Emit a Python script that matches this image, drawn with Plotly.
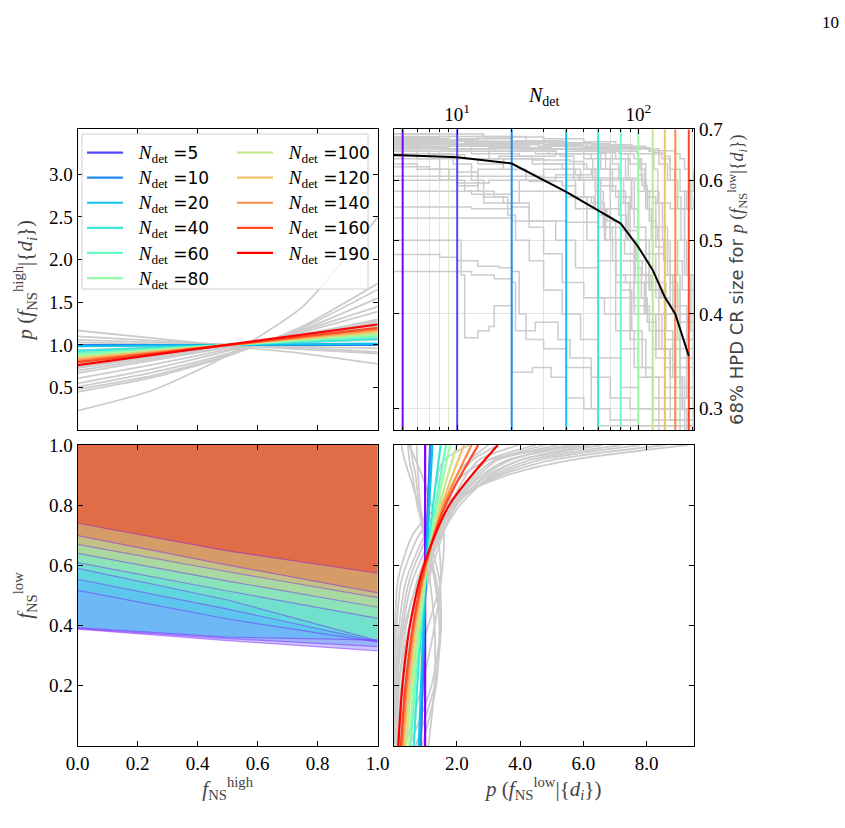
import numpy as np
import plotly.graph_objects as go

# ---------------- data ----------------
N_DET = [5, 10, 20, 40, 60, 80, 100, 120, 140, 160, 190]
RAINBOW = ['#8000ff', '#5148fc', '#238af5', '#0cc1e8', '#3ae8d7', '#68fcc1',
           '#97fca7', '#c5e88a', '#f3c16a', '#ff8a48', '#ff4824', '#ff0000']

# top-left: p(f_high) for each N (straight lines, values at f_high = 0 and 1)
FHIGH_EDGES = [0.0, 1.0]
PHIGH_LEFT = [1.00, 0.995, 0.985, 0.93, 0.90, 0.88, 0.86, 0.84, 0.82, 0.80, 0.765]
PHIGH_RIGHT = [1.00, 1.005, 1.015, 1.07, 1.10, 1.12, 1.14, 1.16, 1.18, 1.20, 1.24]
GRAY_FHIGH_X = [0.0, 0.25, 0.5, 0.75, 1.0]
GRAY_PHIGH = [
    [0.23, 0.47, 0.88, 1.45, 2.50],
    [0.45, 0.62, 0.87, 1.22, 1.72],
    [0.48, 0.64, 0.88, 1.20, 1.65],
    [0.51, 0.68, 0.90, 1.18, 1.55],
    [0.55, 0.72, 0.93, 1.17, 1.45],
    [0.61, 0.77, 0.95, 1.15, 1.39],
    [0.67, 0.82, 0.97, 1.12, 1.30],
    [0.70, 0.84, 0.98, 1.13, 1.28],
    [0.73, 0.86, 0.99, 1.12, 1.25],
    [0.74, 0.87, 0.99, 1.12, 1.26],
    [0.76, 0.88, 1.00, 1.11, 1.23],
    [0.79, 0.89, 1.00, 1.10, 1.20],
    [0.80, 0.90, 1.00, 1.10, 1.21],
    [0.82, 0.91, 1.00, 1.09, 1.17],
    [0.85, 0.93, 1.00, 1.07, 1.14],
    [0.88, 0.94, 1.00, 1.06, 1.11],
    [0.91, 0.96, 1.00, 1.04, 1.08],
    [0.94, 0.97, 1.00, 1.03, 1.06],
    [1.17, 1.08, 0.99, 0.90, 0.78],
    [1.10, 1.05, 1.00, 0.95, 0.90],
    [1.06, 1.03, 1.00, 0.97, 0.92],
    [1.03, 1.01, 1.00, 0.98, 0.96],
]

# top-right: 68% HPD size vs N_det
HPD_N = [1, 5, 10, 20, 40, 60, 80, 100, 120, 140, 160, 190]
HPD_SIZE = [0.652, 0.647, 0.643, 0.631, 0.579, 0.547, 0.526, 0.490, 0.457, 0.421, 0.400, 0.352]
GRAY_HPD_N = [
    [4.4, 7, 12, 20, 35, 60, 75, 85, 95, 110, 125, 140, 160, 203],
    [4.4, 9, 15, 30, 50, 90, 100, 110, 130, 150, 170, 190, 203],
    [4.4, 10, 25, 45, 62, 70, 80, 95, 120, 150, 180, 203],
    [4.4, 8, 20, 40, 60, 120, 135, 150, 165, 180, 195, 203],
    [4.4, 6, 8, 10, 13, 18, 30, 52, 58, 66, 75, 90, 110, 140, 170, 203],
    [4.4, 7, 9.5, 12, 14, 18, 22, 30, 45, 55, 80, 100, 120, 150, 180, 203],
    [4.4, 15, 30, 60, 100, 110, 125, 145, 175, 203],
    [4.4, 8, 12, 20, 40, 55, 65, 75, 85, 110, 140, 170, 203],
    [4.4, 12, 20, 25, 30, 38, 50, 65, 80, 100, 130, 160, 203],
    [4.4, 9, 10.5, 11, 13, 15, 16, 18.5, 20, 26, 33, 40, 50, 60, 203],
    [4.4, 8, 10, 13, 17, 20, 22, 24, 30, 40, 55, 70, 100, 203],
    [4.4, 8, 12, 16, 20, 21, 27, 36, 42, 55, 70, 90, 120, 203],
    [4.4, 7, 10, 13, 16, 19, 21, 25, 30, 38, 48, 60, 80, 100, 130, 203],
    [4.4, 10, 20, 30, 40, 50, 56, 62, 70, 80, 95, 115, 140, 170, 203],
    [4.4, 10, 20, 45, 80, 95, 102, 108, 115, 125, 140, 160, 185, 203],
    [4.4, 12, 22, 32, 40, 45, 52, 60, 75, 90, 110, 140, 170, 203],
    [4.4, 8, 15, 26, 38, 48, 62, 75, 90, 100, 115, 130, 160, 203],
    [4.4, 10, 20, 40, 70, 110, 130, 145, 160, 170, 185, 203],
    [4.4, 9, 13, 18, 24, 35, 47, 58, 70, 85, 95, 110, 130, 160, 203],
    [4.4, 15, 30, 60, 78, 88, 92, 100, 110, 120, 135, 150, 180, 203],
    [4.4, 6, 9, 11, 14, 20, 25, 35, 45, 60, 75, 95, 120, 150, 203],
    [4.4, 15, 35, 55, 70, 80, 88, 98, 115, 135, 150, 165, 180, 195, 203],
    [4.4, 10, 20, 40, 60, 80, 100, 120, 140, 170, 203],
    [4.4, 6, 9, 14, 22, 33, 48, 66, 72, 78, 83, 90, 96, 104, 112, 125, 140, 160, 185, 203],
    [4.4, 8, 13, 24, 38, 55, 85, 115, 122, 128, 136, 145, 155, 170, 185, 203],
    [4.4, 7, 11, 17, 26, 42, 50, 58, 64, 72, 80, 92, 105, 120, 140, 203],
    [4.4, 10, 18, 28, 44, 68, 98, 140, 150, 160, 172, 185, 203],
    [4.4, 9, 16, 27, 37, 44, 50, 57, 67, 75, 84, 96, 108, 125, 150, 175, 203],
    [4.4, 12, 22, 35, 60, 90, 100, 105, 112, 120, 128, 138, 150, 165, 185, 203],
    [4.4, 14, 30, 50, 75, 92, 100, 104, 110, 118, 130, 142, 155, 175, 203],
    [4.4, 7, 10, 15, 25, 38, 45, 52, 60, 70, 80, 100, 115, 140, 165, 203],
    [4.4, 20, 40, 62, 66, 72, 78, 86, 95, 105, 118, 132, 150, 170, 203],
    [4.4, 11, 21, 32, 52, 75, 115, 160, 170, 180, 190, 203],
]
GRAY_HPD_V = [
    [0.665, 0.660, 0.668, 0.655, 0.660, 0.652, 0.640, 0.600, 0.520, 0.480, 0.420, 0.350, 0.310, 0.290],
    [0.680, 0.675, 0.670, 0.668, 0.662, 0.655, 0.630, 0.580, 0.500, 0.430, 0.340, 0.300, 0.290],
    [0.672, 0.665, 0.660, 0.655, 0.620, 0.550, 0.470, 0.400, 0.360, 0.310, 0.280, 0.270],
    [0.690, 0.685, 0.672, 0.664, 0.660, 0.652, 0.640, 0.600, 0.550, 0.450, 0.380, 0.360],
    [0.660, 0.640, 0.600, 0.590, 0.620, 0.640, 0.630, 0.620, 0.550, 0.500, 0.420, 0.370, 0.330, 0.300, 0.280, 0.275],
    [0.655, 0.650, 0.630, 0.600, 0.570, 0.560, 0.600, 0.620, 0.610, 0.620, 0.600, 0.580, 0.560, 0.550, 0.580, 0.600],
    [0.607, 0.607, 0.605, 0.604, 0.600, 0.570, 0.520, 0.470, 0.430, 0.400],
    [0.580, 0.580, 0.575, 0.580, 0.570, 0.560, 0.500, 0.450, 0.440, 0.400, 0.360, 0.320, 0.300],
    [0.553, 0.550, 0.553, 0.520, 0.480, 0.440, 0.420, 0.400, 0.360, 0.330, 0.300, 0.280, 0.275],
    [0.500, 0.500, 0.450, 0.372, 0.380, 0.385, 0.410, 0.410, 0.335, 0.340, 0.330, 0.310, 0.300, 0.285, 0.280],
    [0.479, 0.475, 0.470, 0.462, 0.460, 0.455, 0.400, 0.370, 0.360, 0.340, 0.300, 0.290, 0.285, 0.280],
    [0.455, 0.455, 0.450, 0.445, 0.440, 0.380, 0.390, 0.370, 0.350, 0.330, 0.310, 0.300, 0.290, 0.285],
    [0.625, 0.620, 0.615, 0.580, 0.570, 0.540, 0.500, 0.470, 0.430, 0.400, 0.370, 0.350, 0.320, 0.300, 0.280, 0.275],
    [0.670, 0.675, 0.672, 0.665, 0.660, 0.640, 0.600, 0.550, 0.500, 0.450, 0.410, 0.380, 0.340, 0.300, 0.290],
    [0.660, 0.660, 0.660, 0.655, 0.650, 0.640, 0.620, 0.580, 0.530, 0.490, 0.450, 0.410, 0.370, 0.350],
    [0.675, 0.668, 0.660, 0.650, 0.600, 0.550, 0.500, 0.470, 0.440, 0.420, 0.400, 0.370, 0.340, 0.320],
    [0.650, 0.655, 0.640, 0.630, 0.620, 0.600, 0.590, 0.570, 0.550, 0.500, 0.440, 0.400, 0.360, 0.330],
    [0.685, 0.680, 0.675, 0.670, 0.665, 0.660, 0.630, 0.600, 0.620, 0.580, 0.550, 0.570],
    [0.640, 0.640, 0.630, 0.620, 0.600, 0.610, 0.600, 0.600, 0.580, 0.500, 0.450, 0.400, 0.360, 0.320, 0.300],
    [0.668, 0.662, 0.660, 0.658, 0.650, 0.600, 0.550, 0.500, 0.440, 0.400, 0.360, 0.330, 0.300, 0.280],
    [0.630, 0.620, 0.600, 0.580, 0.560, 0.560, 0.530, 0.500, 0.460, 0.420, 0.380, 0.340, 0.310, 0.290, 0.280],
    [0.660, 0.655, 0.650, 0.640, 0.600, 0.560, 0.500, 0.470, 0.430, 0.420, 0.450, 0.500, 0.550, 0.600, 0.620],
    [0.535, 0.535, 0.530, 0.528, 0.520, 0.515, 0.500, 0.480, 0.450, 0.400, 0.370],
    [0.670, 0.672, 0.665, 0.670, 0.662, 0.667, 0.660, 0.655, 0.630, 0.600, 0.560, 0.500, 0.460, 0.420, 0.390, 0.350, 0.320, 0.300, 0.280, 0.275],
    [0.683, 0.678, 0.685, 0.676, 0.672, 0.668, 0.662, 0.655, 0.620, 0.560, 0.500, 0.450, 0.400, 0.350, 0.310, 0.290],
    [0.645, 0.648, 0.640, 0.645, 0.638, 0.635, 0.620, 0.580, 0.520, 0.470, 0.430, 0.380, 0.340, 0.300, 0.280, 0.275],
    [0.675, 0.670, 0.668, 0.665, 0.660, 0.655, 0.650, 0.645, 0.620, 0.570, 0.500, 0.450, 0.410],
    [0.662, 0.660, 0.655, 0.650, 0.645, 0.600, 0.570, 0.550, 0.530, 0.500, 0.480, 0.440, 0.400, 0.360, 0.330, 0.300, 0.290],
    [0.655, 0.650, 0.645, 0.650, 0.640, 0.630, 0.610, 0.590, 0.550, 0.520, 0.500, 0.470, 0.440, 0.400, 0.350, 0.330],
    [0.690, 0.684, 0.680, 0.674, 0.668, 0.660, 0.640, 0.600, 0.550, 0.500, 0.440, 0.380, 0.330, 0.300, 0.280],
    [0.600, 0.600, 0.595, 0.600, 0.598, 0.590, 0.570, 0.550, 0.540, 0.500, 0.470, 0.450, 0.430, 0.400, 0.370, 0.350],
    [0.665, 0.660, 0.655, 0.650, 0.620, 0.580, 0.540, 0.500, 0.470, 0.450, 0.430, 0.420, 0.410, 0.390, 0.370],
    [0.678, 0.672, 0.676, 0.670, 0.665, 0.660, 0.656, 0.650, 0.640, 0.620, 0.600, 0.610],
]

# bottom-left: lower bound of the f_low credible region vs f_high
FLOW_BOUND_X = [0.0, 0.5, 1.0]
FLOW_LOWER = [
    [0.388, 0.350, 0.316],
    [0.390, 0.357, 0.330],
    [0.393, 0.362, 0.352],
    [0.517, 0.422, 0.345],
    [0.554, 0.455, 0.347],
    [0.590, 0.485, 0.350],
    [0.609, 0.515, 0.424],
    [0.640, 0.548, 0.461],
    [0.670, 0.579, 0.493],
    [0.699, 0.601, 0.509],
    [0.740, 0.648, 0.574],
]

# bottom-right: p(f_low) curves
FLOW_GRID_C = [0.0, 0.2, 0.4, 0.6, 0.8, 1.0]
PLOW_PRIOR = [1.0, 1.0, 1.0, 1.0, 1.0, 1.0]
PLOW = [
    [0.86, 0.92, 0.97, 1.03, 1.09, 1.16],
    [0.85, 0.91, 0.97, 1.03, 1.10, 1.17],
    [0.80, 0.87, 0.95, 1.04, 1.13, 1.23],
    [0.64, 0.75, 0.89, 1.06, 1.25, 1.49],
    [0.54, 0.68, 0.85, 1.06, 1.33, 1.66],
    [0.49, 0.63, 0.82, 1.06, 1.38, 1.79],
    [0.40, 0.56, 0.77, 1.06, 1.46, 2.00],
    [0.33, 0.49, 0.71, 1.04, 1.53, 2.23],
    [0.27, 0.43, 0.66, 1.03, 1.59, 2.47],
    [0.23, 0.38, 0.62, 1.00, 1.64, 2.68],
    [0.15, 0.28, 0.52, 0.96, 1.76, 3.30],
]
FLOW_GRID_G = [0.0, 0.2, 0.4, 0.55, 0.7, 0.8, 0.9, 0.95, 1.0]
GRAY_PLOW = [
    [0.01, 0.02, 0.05, 0.14, 0.60, 1.45, 3.6, 5.6, 9.3],
    [0.02, 0.04, 0.10, 0.25, 0.80, 1.60, 3.4, 5.0, 8.6],
    [0.03, 0.07, 0.18, 0.40, 1.00, 1.80, 3.3, 4.6, 7.8],
    [0.05, 0.10, 0.25, 0.50, 1.10, 1.90, 3.2, 4.3, 7.2],
    [0.04, 0.12, 0.30, 0.60, 1.25, 1.95, 3.0, 4.0, 6.6],
    [0.08, 0.18, 0.40, 0.75, 1.30, 1.90, 2.8, 3.6, 5.9],
    [0.10, 0.25, 0.50, 0.85, 1.40, 1.90, 2.7, 3.3, 5.2],
    [0.15, 0.30, 0.60, 0.95, 1.45, 1.85, 2.5, 3.0, 4.5],
    [0.20, 0.40, 0.70, 1.00, 1.45, 1.80, 2.3, 2.7, 3.96],
    [0.30, 0.50, 0.80, 1.05, 1.40, 1.70, 2.1, 2.5, 3.3],
    [0.50, 1.20, 1.50, 1.45, 1.10, 0.80, 0.50, 0.35, 0.25],
    [0.70, 1.30, 1.50, 1.35, 1.00, 0.75, 0.60, 0.50, 0.46],
    [0.90, 1.35, 1.45, 1.30, 1.00, 0.85, 0.78, 0.75, 0.73],
    [1.10, 1.30, 1.30, 1.15, 0.95, 0.80, 0.70, 0.60, 0.55],
    [0.05, 0.30, 0.70, 1.10, 1.55, 1.90, 2.6, 3.2, 4.8],
    [0.02, 0.15, 0.50, 0.95, 1.50, 2.00, 2.9, 3.7, 5.5],
    [0.01, 0.08, 0.35, 0.80, 1.50, 2.10, 3.1, 4.0, 6.2],
    [0.12, 0.35, 0.65, 0.90, 1.20, 1.50, 2.2, 3.0, 5.8],
    [0.25, 0.55, 0.85, 1.10, 1.35, 1.60, 2.0, 2.4, 3.0],
    [0.35, 0.90, 1.30, 1.50, 1.40, 1.20, 0.9, 0.7, 0.5],
    [0.08, 0.50, 1.10, 1.50, 1.60, 1.50, 1.4, 1.6, 2.4],
]

# axis limits
PHIGH_YLIM = [0.004, 3.527]
HPD_XLIM = [4.45, 203]
HPD_YLIM = [0.2813, 0.7]
PLOW_XLIM = [0.0, 9.5]

# ---------------- styling helpers ----------------
SERIF = "Liberation Serif"
SANS = "DejaVu Sans"
GRAY = "#cccccc"
W, H = 845, 828


def px_x(p):
    return p / W


def px_y(p):
    return 1 - p / H


def rgba(hexc, a):
    hexc = hexc.lstrip('#')
    r, g, b = int(hexc[0:2], 16), int(hexc[2:4], 16), int(hexc[4:6], 16)
    return f"rgba({r},{g},{b},{a})"


def legend_label(n):
    return (f'&nbsp;&nbsp;<span style="font-family:{SERIF};font-size:19px">'
            f'<i>N</i><sub>det</sub></span> ={n}')


P_LOW = '<i>p</i> (<i>f</i><sub>NS</sub><sup>low</sup>|{<i>d</i><sub><i>i</i></sub>})'
P_HIGH = '<i>p</i> (<i>f</i><sub>NS</sub><sup>high</sup>|{<i>d</i><sub><i>i</i></sub>})'

fig = go.Figure()

# ---- top-left panel ----
for ys in GRAY_PHIGH:
    fig.add_trace(go.Scatter(x=GRAY_FHIGH_X, y=ys, mode='lines',
                             line=dict(color=GRAY, width=1.8, shape='spline', smoothing=0.6),
                             xaxis='x', yaxis='y', showlegend=False, hoverinfo='skip'))
for i, n in enumerate(N_DET):
    fig.add_trace(go.Scatter(x=FHIGH_EDGES, y=[PHIGH_LEFT[i], PHIGH_RIGHT[i]], mode='lines',
                             line=dict(color=RAINBOW[i + 1], width=2.2),
                             name=legend_label(n), legend='legend' if i < 6 else 'legend2',
                             xaxis='x', yaxis='y', hoverinfo='skip'))

# ---- top-right panel ----
for ns, vs in zip(GRAY_HPD_N, GRAY_HPD_V):
    fig.add_trace(go.Scatter(x=ns, y=vs, mode='lines',
                             line=dict(color=GRAY, width=1.5, shape='hv'),
                             xaxis='x2', yaxis='y2', showlegend=False, hoverinfo='skip'))
for i, n in enumerate(N_DET):
    fig.add_trace(go.Scatter(x=[n, n], y=HPD_YLIM, mode='lines',
                             line=dict(color=RAINBOW[i], width=2),
                             xaxis='x2', yaxis='y2', showlegend=False, hoverinfo='skip'))
fig.add_trace(go.Scatter(x=HPD_N, y=HPD_SIZE, mode='lines',
                         line=dict(color='black', width=2),
                         xaxis='x2', yaxis='y2', showlegend=False, hoverinfo='skip'))

# ---- bottom-left panel ----
for i, lo in enumerate(FLOW_LOWER):
    fig.add_trace(go.Scatter(x=FLOW_BOUND_X + [1.0, 0.0], y=lo + [1.0, 1.0],
                             mode='lines', fill='toself',
                             fillcolor=rgba(RAINBOW[i + 1], 0.3), line=dict(width=0),
                             xaxis='x3', yaxis='y3', showlegend=False, hoverinfo='skip'))
for lo in FLOW_LOWER:
    fig.add_trace(go.Scatter(x=FLOW_BOUND_X, y=lo, mode='lines',
                             line=dict(color='rgba(128,0,255,0.4)', width=1.2),
                             xaxis='x3', yaxis='y3', showlegend=False, hoverinfo='skip'))

# ---- bottom-right panel ----
for ps in GRAY_PLOW:
    fig.add_trace(go.Scatter(x=ps, y=FLOW_GRID_G, mode='lines',
                             line=dict(color=GRAY, width=1.8, shape='spline', smoothing=0.7),
                             xaxis='x4', yaxis='y4', showlegend=False, hoverinfo='skip'))
fig.add_trace(go.Scatter(x=PLOW_PRIOR, y=FLOW_GRID_C, mode='lines',
                         line=dict(color=RAINBOW[0], width=2.2),
                         xaxis='x4', yaxis='y4', showlegend=False, hoverinfo='skip'))
for i, ps in enumerate(PLOW):
    fig.add_trace(go.Scatter(x=ps, y=FLOW_GRID_C, mode='lines',
                             line=dict(color=RAINBOW[i + 1], width=2.2, shape='spline', smoothing=0.8),
                             xaxis='x4', yaxis='y4', showlegend=False, hoverinfo='skip'))

# ---------------- axes ----------------
XL = [px_x(77.7), px_x(377.7)]
XR = [px_x(393.5), px_x(694.0)]
YT = [px_y(430.0), px_y(129.3)]
YB = [px_y(746.0), px_y(445.0)]


def base():
    return dict(showline=True, linecolor='black', linewidth=1.3, mirror='ticks',
                ticks='inside', ticklen=5, tickwidth=1.1, tickcolor='black',
                showgrid=False, zeroline=False, automargin=False,
                tickfont=dict(family=SERIF, size=19, color='black'))


fig.update_layout(
    xaxis=dict(base(), domain=XL, anchor='y', range=[0, 1],
               tickvals=[0.2, 0.4, 0.6, 0.8], showticklabels=False),
    yaxis=dict(base(), domain=YT, anchor='x', range=PHIGH_YLIM,
               tickvals=[0.5, 1.0, 1.5, 2.0, 2.5, 3.0],
               ticktext=['0.5', '1.0', '1.5', '2.0', '2.5', '3.0'],
               title=dict(text=P_HIGH, font=dict(family=SERIF, size=21), standoff=10)),
    xaxis2=dict(base(), domain=XR, anchor='y2', type='log', side='top',
                range=[np.log10(HPD_XLIM[0]), np.log10(HPD_XLIM[1])],
                tickvals=[10, 100], ticktext=['10<sup>1</sup>', '10<sup>2</sup>'],
                showgrid=True, gridcolor='#e3e3e3', gridwidth=1,
                minor=dict(ticks='inside', ticklen=3, tickcolor='black',
                           tickvals=[5, 6, 7, 8, 9, 20, 30, 40, 50, 60, 70, 80, 90, 200],
                           showgrid=True, gridcolor='#e3e3e3', gridwidth=1)),
    yaxis2=dict(base(), domain=YT, anchor='x2', type='log', side='right',
                range=[np.log10(HPD_YLIM[0]), np.log10(HPD_YLIM[1])],
                tickvals=[0.3, 0.4, 0.5, 0.6, 0.7],
                ticktext=['0.3', '0.4', '0.5', '0.6', '0.7'],
                showgrid=True, gridcolor='#e3e3e3', gridwidth=1,
                title=dict(text=(f'68% HPD CR size for <span style="font-family:{SERIF}">'
                                 + P_LOW + '</span>'),
                           font=dict(family=SANS, size=18), standoff=8)),
    xaxis3=dict(base(), domain=XL, anchor='y3', range=[0, 1],
                tickvals=[0.0, 0.2, 0.4, 0.6, 0.8, 1.0],
                ticktext=['0.0', '0.2', '0.4', '0.6', '0.8', '1.0'],
                title=dict(text='<i>f</i><sub>NS</sub><sup>high</sup>',
                           font=dict(family=SERIF, size=21), standoff=4)),
    yaxis3=dict(base(), domain=YB, anchor='x3', range=[0, 1],
                tickvals=[0.2, 0.4, 0.6, 0.8, 1.0],
                ticktext=['0.2', '0.4', '0.6', '0.8', '1.0'],
                title=dict(text='<i>f</i><sub>NS</sub><sup>low</sup>',
                           font=dict(family=SERIF, size=21), standoff=10)),
    xaxis4=dict(base(), domain=XR, anchor='y4', range=PLOW_XLIM,
                tickvals=[2, 4, 6, 8], ticktext=['2.0', '4.0', '6.0', '8.0'],
                title=dict(text=P_LOW, font=dict(family=SERIF, size=21), standoff=4)),
    yaxis4=dict(base(), domain=YB, anchor='x4', range=[0, 1],
                tickvals=[0.2, 0.4, 0.6, 0.8], showticklabels=False),
)

legend_common = dict(orientation='v', xanchor='left', yanchor='top',
                     bgcolor='rgba(0,0,0,0)', borderwidth=0,
                     font=dict(family=SANS, size=17, color='black'),
                     itemwidth=36, tracegroupgap=0)
fig.update_layout(
    legend=dict(legend_common, x=px_x(82), y=px_y(135)),
    legend2=dict(legend_common, x=px_x(232), y=px_y(135)),
)

# legend frame (white, semi-transparent)
fig.add_shape(type='rect', xref='paper', yref='paper',
              x0=px_x(82), x1=px_x(368), y0=px_y(289), y1=px_y(134),
              line=dict(color='#d0d0d0', width=1), fillcolor='rgba(255,255,255,0.8)',
              layer='above')

# N_det title of the top axis of the upper-right panel
fig.add_annotation(x=(XR[0] + XR[1]) / 2, y=px_y(97), xref='paper', yref='paper',
                   xanchor='center', yanchor='middle',
                   text='<i>N</i><sub>det</sub>', showarrow=False,
                   font=dict(family=SERIF, size=20, color='black'))

fig.add_annotation(x=px_x(830), y=px_y(22), xref='paper', yref='paper', text='10',
                   xanchor='center', yanchor='middle',
                   showarrow=False, font=dict(family=SERIF, size=17, color='black'))

fig.update_layout(width=W, height=H, margin=dict(l=0, r=0, t=0, b=0),
                  paper_bgcolor='white', plot_bgcolor='white', template='none',
                  showlegend=True, hovermode=False)

fig.write_html("out.html")
